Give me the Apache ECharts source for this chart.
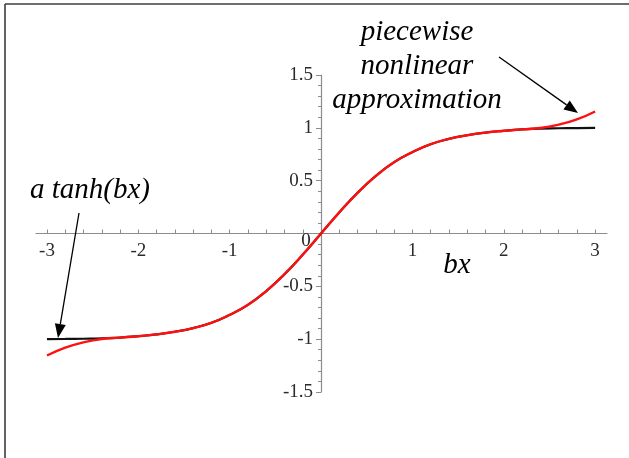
<!DOCTYPE html>
<html>
<head>
<meta charset="utf-8">
<script src="https://cdn.jsdelivr.net/npm/echarts@6/dist/echarts.min.js"></script>
<style>
  html, body { margin: 0; padding: 0; background: #fff; }
  #chart { width: 629px; height: 458px; }
</style>
</head>
<body>
<div id="chart"></div>
<script>
// Sample positions along bx
var bxValues = [-3.0, -2.8, -2.6, -2.4, -2.2, -2.0, -1.8, -1.6, -1.4, -1.2, -1.0, -0.8, -0.6, -0.4, -0.2,
                0.0, 0.2, 0.4, 0.6, 0.8, 1.0, 1.2, 1.4, 1.6, 1.8, 2.0, 2.2, 2.4, 2.6, 2.8, 3.0];

// a tanh(bx)
var tanhValues = [-0.999, -0.998, -0.996, -0.993, -0.985, -0.972, -0.955, -0.930, -0.895, -0.845, -0.770, -0.675, -0.545, -0.385, -0.200,
                  0.0, 0.200, 0.385, 0.545, 0.675, 0.770, 0.845, 0.895, 0.930, 0.955, 0.972, 0.985, 0.993, 0.996, 0.998, 0.999];

// piecewise nonlinear approximation
var approxValues = [-1.155, -1.080, -1.030, -0.998, -0.985, -0.972, -0.955, -0.930, -0.895, -0.845, -0.770, -0.675, -0.545, -0.385, -0.200,
                    0.0, 0.200, 0.385, 0.545, 0.675, 0.770, 0.845, 0.895, 0.930, 0.955, 0.972, 0.985, 0.998, 1.030, 1.080, 1.155];

var xTickLabels = [-3, -2, -1, 1, 2, 3];
var yTickLabels = [-1.5, -1, -0.5, 0.5, 1, 1.5];

function pairs(xs, ys) {
  return xs.map(function (x, i) { return [x, ys[i]]; });
}

var xMinorTicks = [];
for (var k = -15; k <= 15; k++) { if (k !== 0) xMinorTicks.push(k / 5); }

// plotting area
var G = { left: 36, right: 22, top: 75, bottom: 66 };
var W = 629, H = 458;
var X_MIN = -3.12, X_MAX = 3.13, Y_MIN = -1.5, Y_MAX = 1.5;
var gridW = W - G.left - G.right, gridH = H - G.top - G.bottom;
// shift the axes so they cross at the origin, with ticks and labels travelling along
var yAxisShift = -((0 - X_MIN) / (X_MAX - X_MIN) * gridW);
var xAxisShift = -((0 - Y_MIN) / (Y_MAX - Y_MIN) * gridH);

var axisGray = '#8c8c8c';
var labelFont = { fontFamily: 'Liberation Serif', fontSize: 19, color: '#2a2a2a' };

var chart = echarts.init(document.getElementById('chart'), null, { renderer: 'canvas' });

var option = {
  animation: false,
  backgroundColor: '#fff',
  grid: { left: G.left, right: G.right, top: G.top, bottom: G.bottom, containLabel: false, outerBoundsMode: 'none' },
  xAxis: {
    type: 'value',
    position: 'bottom',
    offset: xAxisShift,
    min: X_MIN,
    max: X_MAX,
    axisLine: { show: true, onZero: false, lineStyle: { color: axisGray, width: 1.2 } },
    axisTick: { show: true, inside: true, length: 4, customValues: xMinorTicks, lineStyle: { color: axisGray } },
    axisLabel: Object.assign({ customValues: xTickLabels, margin: 8 }, labelFont),
    splitLine: { show: false }
  },
  yAxis: {
    type: 'value',
    position: 'left',
    offset: yAxisShift,
    min: Y_MIN,
    max: Y_MAX,
    interval: 0.5,
    axisLine: { show: true, onZero: false, lineStyle: { color: axisGray, width: 1.2 } },
    axisTick: { show: true, length: 5, lineStyle: { color: axisGray } },
    minorTick: { show: true, splitNumber: 5, length: 3, lineStyle: { color: axisGray } },
    axisLabel: Object.assign({ customValues: yTickLabels, margin: 8 }, labelFont),
    splitLine: { show: false },
    minorSplitLine: { show: false }
  },
  series: [
    {
      name: 'a tanh(bx)',
      type: 'line',
      data: pairs(bxValues, tanhValues),
      smooth: true,
      showSymbol: false,
      lineStyle: { color: '#111', width: 2.2 },
      z: 2
    },
    {
      name: 'piecewise nonlinear approximation',
      type: 'line',
      data: pairs(bxValues, approxValues),
      smooth: true,
      showSymbol: false,
      lineStyle: { color: '#ff1010', width: 2.4 },
      z: 3
    }
  ]
};
chart.setOption(option);

// Arrow annotation built from a start and tip point
function arrow(x1, y1, x2, y2) {
  var dx = x2 - x1, dy = y2 - y1;
  var len = Math.sqrt(dx * dx + dy * dy);
  var ux = dx / len, uy = dy / len;
  var headLen = 14, headHalf = 5.5;
  var bx = x2 - ux * headLen, by = y2 - uy * headLen;
  return [
    { type: 'line', shape: { x1: x1, y1: y1, x2: bx, y2: by }, style: { stroke: '#000', lineWidth: 1.3 }, z: 10 },
    { type: 'polygon', shape: { points: [[x2, y2], [bx + uy * headHalf, by - ux * headHalf], [bx - uy * headHalf, by + ux * headHalf]] },
      style: { fill: '#000' }, z: 10 }
  ];
}

var origin = chart.convertToPixel({ gridIndex: 0 }, [0, 0]);
var annotFont = 'italic 29px "Liberation Serif"';

var graphics = [
  // frame edges
  { type: 'line', shape: { x1: 5, y1: 4, x2: 629, y2: 4 }, style: { stroke: '#3c3c3c', lineWidth: 1.6 }, z: 20 },
  { type: 'line', shape: { x1: 5, y1: 4, x2: 5, y2: 458 }, style: { stroke: '#3c3c3c', lineWidth: 1.6 }, z: 20 },
  // origin label
  { type: 'text', x: origin[0] - 15, y: origin[1] + 8,
    style: { text: '0', font: '19px "Liberation Serif"', fill: '#222', align: 'center', verticalAlign: 'middle' }, z: 10 },
  // axis name
  { type: 'text', x: 457, y: 265,
    style: { text: 'bx', font: annotFont, fill: '#000', align: 'center', verticalAlign: 'middle' }, z: 10 },
  // annotations
  { type: 'text', x: 90, y: 190,
    style: { text: 'a tanh(bx)', font: annotFont, fill: '#000', align: 'center', verticalAlign: 'middle' }, z: 10 },
  { type: 'text', x: 417, y: 66,
    style: { text: 'piecewise\nnonlinear\napproximation', font: annotFont, lineHeight: 34, fill: '#000', align: 'center', verticalAlign: 'middle' }, z: 10 }
].concat(arrow(79, 213, 58, 338)).concat(arrow(499, 57, 578, 113));

chart.setOption({ graphic: { elements: graphics } });
</script>
</body>
</html>
